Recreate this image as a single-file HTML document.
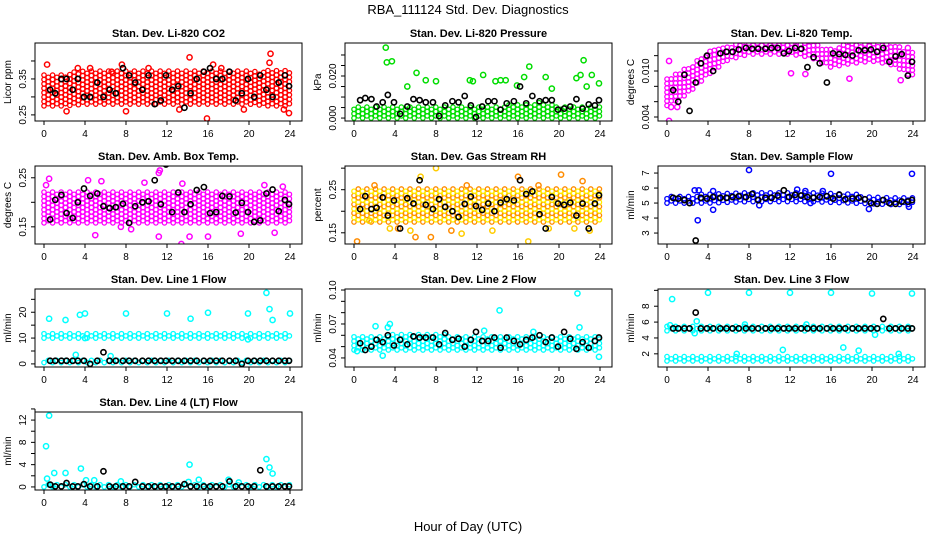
<!DOCTYPE html>
<html><head><meta charset="utf-8">
<style>
html,body{margin:0;padding:0;background:#fff;}
svg{display:block;font-family:"Liberation Sans",Arial,sans-serif;}
</style></head>
<body>
<svg id="chart" width="936" height="540" viewBox="0 0 936 540" xmlns="http://www.w3.org/2000/svg">
<text x="468" y="14" text-anchor="middle" font-size="13">RBA_111124  Std. Dev. Diagnostics</text>
<text x="468" y="531" text-anchor="middle" font-size="13">Hour of Day (UTC)</text>
</svg>
<script>
const bandHours = [0,2,4,6,8,10,12,14,16,18,20,22,24];
const blackHours = [0.6,1.1,1.7,2.2,2.8,3.3,3.9,4.5,5.2,5.8,6.4,7.0,7.7,8.3,8.9,9.6,10.2,10.8,11.4,11.9,12.5,13.1,13.7,14.3,14.9,15.6,16.2,16.8,17.4,18.1,18.7,19.3,19.9,20.5,21.1,21.7,22.3,22.9,23.5,23.9];
const xTicks = [0,4,8,12,16,20,24];

// P1 CO2
const co2BandLo = [.275,.275,.28,.28,.28,.28,.28,.28,.28,.28,.28,.275,.275];
const co2BandHi = [.365,.365,.375,.375,.375,.375,.375,.375,.375,.375,.375,.375,.375];
const co2Out = [[0.3,.39],[3.3,.38],[4.5,.38],[7.6,.39],[8,.26],[10.2,.38],[14.2,.41],[15.9,.24],[16.5,.39],[22.1,.42],[22,.395],[23.4,.265],[23.9,.255],[2.2,.26],[13.2,.265],[19.5,.265],[6.6,.37],[17.3,.38]];
const co2Black = [.32,.31,.35,.35,.32,.35,.30,.30,.34,.30,.32,.31,.38,.36,.34,.32,.36,.28,.29,.36,.32,.33,.27,.31,.35,.37,.38,.35,.35,.37,.29,.31,.35,.30,.36,.32,.30,.34,.36,.33];
// P2 Pressure
const presBandLo = [0,0,0,0,0,0,0,0,0,0,0,0,0];
const presBandHi = [.006,.006,.006,.006,.006,.006,.006,.006,.0065,.0075,.006,.006,.006];
const presOut = [[3.1,.0335],[3.2,.0265],[3.7,.027],[5.2,.015],[6.1,.0215],[7,.018],[8,.0175],[11.3,.018],[11.6,.0175],[12.6,.0205],[13.8,.0175],[14.3,.018],[14.8,.018],[15.9,.0155],[16.6,.0195],[17.1,.0245],[18.7,.0195],[19.3,.014],[21.7,.019],[22.1,.0205],[22.4,.0275],[22.7,.015],[23.2,.0205],[23.9,.0165]];
const presBlack = [.0085,.0095,.009,.0055,.0075,.011,.0075,.002,.0055,.009,.0085,.0075,.0075,.001,.006,.008,.0075,.0105,.006,.0005,.0055,.008,.008,.004,.007,.008,.015,.007,.0105,.008,.0085,.0085,.004,.0045,.0055,.009,.0045,.0065,.006,.0085];
// P3 Li-820 Temp
const tempBandLo = [.0055,.007,.0095,.0115,.0122,.0122,.0122,.0118,.0105,.011,.0113,.0108,.0092];
const tempBandHi = [.009,.0105,.0125,.0135,.0137,.0137,.0137,.0137,.013,.0137,.0137,.0135,.0125];
const tempOut = [[0.2,.0035],[0.4,.0053],[1,.0053],[0.2,.0113],[12.1,.0097],[13.5,.0096],[17.8,.0090],[22.8,.0088],[23.5,.0130]];
const tempBlack = [.0075,.0060,.0095,.0048,.0085,.0110,.0120,.0100,.0123,.0125,.0125,.0128,.0130,.0129,.0129,.0129,.0130,.0130,.0123,.0126,.0130,.0129,.0105,.0118,.0110,.0085,.0123,.0122,.0121,.0120,.0127,.0127,.0128,.0125,.0130,.0112,.0119,.0122,.0094,.0112];
// P4 Amb box temp
const ambBandLo = [.158,.158,.158,.158,.158,.158,.158,.158,.158,.158,.158,.158,.158];
const ambBandHi = [.225,.225,.225,.225,.225,.225,.225,.225,.225,.225,.225,.225,.225];
const ambOut = [[0.5,.248],[0.2,.235],[4.3,.245],[5.6,.243],[11.2,.26],[11.3,.265],[13.4,.115],[14.8,.108],[14.2,.13],[16,.13],[5,.133],[11.2,.13],[19.2,.136],[22.5,.138],[7.5,.15],[8.5,.145],[13.5,.238],[23.3,.232],[21.5,.235],[9.8,.24]];
const ambBlack = [.165,.205,.215,.178,.168,.200,.228,.213,.218,.192,.188,.190,.197,.158,.192,.200,.202,.245,.196,.277,.180,.220,.180,.196,.225,.231,.178,.180,.213,.212,.179,.199,.180,.160,.163,.218,.226,.182,.205,.196];
// P5 Gas stream RH
const rhBandLo = [.175,.175,.175,.175,.175,.175,.175,.175,.175,.175,.175,.175,.175];
const rhBandHi = [.255,.255,.255,.255,.255,.255,.255,.255,.255,.255,.255,.255,.255];
const rhOut = [[0.3,.13],[1.5,.178],[2,.26],[3.5,.16],[4.3,.16],[5.5,.155],[6.0,.14],[6.5,.28],[7.5,.14],[8,.30],[9.5,.155],[10.5,.148],[11,.26],[13.5,.155],[16,.28],[17,.13],[18,.26],[19,.16],[20.2,.285],[21.5,.16],[22.3,.27],[23,.155]];
const rhBlack = [.205,.235,.205,.208,.232,.190,.225,.160,.230,.218,.272,.215,.205,.228,.210,.200,.187,.217,.234,.212,.203,.218,.200,.220,.228,.225,.272,.240,.246,.193,.160,.233,.218,.215,.220,.190,.218,.160,.218,.237];
// P6 Sample flow
const sfBandLo = [5.0,5.0,5.0,5.05,5.1,5.1,5.1,5.1,5.05,5.0,4.95,4.9,4.9];
const sfBandHi = [5.55,5.55,5.6,5.65,5.7,5.7,5.75,5.7,5.65,5.6,5.5,5.45,5.4];
const sfOut = [[8,7.2],[16,6.95],[23.9,6.95],[3,3.85],[4.5,4.55],[19.7,4.6],[2.7,5.85],[3.1,5.85],[4.5,5.8],[12.7,5.9],[13.5,5.8],[15.2,5.8],[14,5],[23.6,4.75],[9,4.85]];
const sfBlack = [5.35,5.3,5.2,5.0,2.5,5.35,5.3,5.4,5.35,5.35,5.4,5.45,5.4,5.6,5.2,5.35,5.35,5.5,5.85,5.4,5.55,5.5,5.4,5.35,5.4,5.45,5.3,5.55,5.25,5.3,5.35,5.25,5.0,4.95,5.2,5.0,4.95,5.1,5.1,5.2];
// P7 Line 1
const l1BandLo = [10,10,10,10,10,10,10,10,10,10,10,10,10];
const l1BandHi = [12.5,12.5,12.5,12.5,12.5,12.5,12.5,12.5,12.5,12.5,12.5,12.5,12.5];
const l1Band2Lo = [0.5,0.5,0.5,0.5,0.5,0.5,0.5,0.5,0.5,0.5,0.5,0.5,0.5];
const l1Band2Hi = [2,2,2,2,2,2,2,2,2,2,2,2,2];
const l1Out = [[0.5,17.5],[2.1,17],[3.5,19],[4,19.5],[8,19.5],[12,19.5],[14.3,17.5],[16,19.8],[19.9,19.5],[21.7,27.5],[22,21.2],[22.3,17],[24,19.5],[19.9,9.5],[4,10],[3.1,3.5],[6.5,3]];
const l1Black = [1.2,1.2,1.2,1.2,1.2,1.2,1.2,0,1.2,4.5,1.2,1.2,1.2,1.2,1.2,1.2,1.2,1.2,1.2,1.2,1.2,1.2,1.2,1.2,1.2,1.2,1.2,1.2,1.2,1.2,1.2,0,1.2,1.2,1.2,1.2,1.2,1.2,1.2,1.2];
// P8 Line 2
const l2BandLo = [.047,.047,.047,.047,.047,.047,.047,.047,.047,.047,.047,.047,.047];
const l2BandHi = [.059,.059,.061,.061,.061,.06,.06,.06,.06,.06,.06,.06,.059];
const l2Out = [[21.8,.097],[14.2,.082],[22,.067],[2.1,.068],[3.5,.070],[3.3,.067],[0.3,.046],[2.8,.042],[23.9,.041],[12.7,.064],[17.5,.063]];
const l2Black = [.053,.047,.050,.056,.054,.060,.051,.056,.052,.059,.058,.058,.058,.052,.062,.056,.057,.050,.056,.063,.055,.055,.058,.049,.058,.055,.052,.056,.058,.060,.054,.058,.050,.063,.057,.048,.054,.049,.055,.058];
// P9 Line 3
const l3BandLo = [4.9,4.9,4.9,4.9,4.9,4.9,4.9,4.9,4.9,4.9,4.9,4.9,4.9];
const l3BandHi = [5.5,5.5,5.5,5.5,5.5,5.5,5.5,5.5,5.5,5.5,5.5,5.5,5.5];
const l3Band2Lo = [1.1,1.1,1.1,1.1,1.1,1.1,1.1,1.1,1.1,1.1,1.1,1.1,1.1];
const l3Band2Hi = [1.7,1.7,1.7,1.7,1.7,1.7,1.7,1.7,1.7,1.7,1.7,1.7,1.7];
const l3Out = [[0.5,8.9],[4,9.7],[8,9.7],[12,9.7],[16,9.7],[20,9.6],[23.9,9.6],[2.9,6.1],[11.3,2.5],[17.2,2.8],[18.7,2.4],[6.8,2.0],[22.6,2.0],[0.3,5.6],[13.6,5.7],[7.6,5.7],[20.3,4.4],[2.7,4.6]];
const l3Black = [5.2,5.2,5.2,5.2,7.2,5.2,5.2,5.2,5.2,5.2,5.2,5.2,5.2,5.2,5.2,5.2,5.2,5.2,5.2,5.2,5.2,5.2,5.2,5.2,5.2,5.2,5.2,5.2,5.2,5.2,5.2,5.2,5.2,5.2,6.4,5.2,5.2,5.2,5.2,5.2];
// P10 Line 4
const l4BandLo = [0,0,0,0,0,0,0,0,0,0,0,0,0];
const l4BandHi = [0.6,0.6,0.5,0.5,0.5,0.5,0.5,0.5,0.6,0.5,0.4,0.4,0.4];
const l4Out = [[0.2,7.3],[0.5,12.8],[0.3,1.5],[1,2.5],[2.1,2.5],[3.6,3.3],[4.1,1.2],[4.9,1.2],[7.5,1],[14.2,4],[14.1,0.9],[15.1,1.3],[18,1.3],[19,0.8],[21.7,5],[22,3.5],[22.3,2.4],[0.7,0.3]];
const l4Black = [0.4,0.1,0.1,0.7,0.1,0.1,0.5,0.1,0.1,2.8,0.1,0.1,0.1,0.1,0.9,0.1,0.1,0.1,0.1,0.1,0.1,0.1,0.5,0.1,0.1,0.1,0.1,0.1,0.1,1.0,0.1,0.1,0.1,0.1,3.0,0.1,0.1,0.1,0.1,0.1];

const NS = "http://www.w3.org/2000/svg";
const svg = document.getElementById('chart');
function mk(tag, attrs, parent){const e=document.createElementNS(NS,tag);for(const k in attrs)e.setAttribute(k,attrs[k]);(parent||svg).appendChild(e);return e;}

const panels = [
 {key:'co2',title:'Stan. Dev. Li-820 CO2',ylab:'Licor ppm',col:0,row:0,ymin:.233,ymax:.45,ticks:[.25,.30,.35,.40],labels:['0.25','','0.35',''],color:'#ff0000',color2:null,bands:[[co2BandLo,co2BandHi]],out:co2Out,black:co2Black},
 {key:'pressure',title:'Stan. Dev. Li-820 Pressure',ylab:'kPa',col:1,row:0,ymin:-.0014,ymax:.0357,ticks:[0,.005,.01,.015,.02,.025,.03],labels:['0.000','','','','0.020','',''],color:'#00dd00',color2:null,bands:[[presBandLo,presBandHi]],out:presOut,black:presBlack},
 {key:'li820-temp',title:'Stan. Dev. Li-820 Temp.',ylab:'degrees C',col:2,row:0,ymin:.00348,ymax:.01365,ticks:[.004,.006,.008,.010,.012],labels:['0.004','','','0.010',''],color:'#ff00ff',color2:null,bands:[[tempBandLo,tempBandHi]],out:tempOut,black:tempBlack},
 {key:'amb-box-temp',title:'Stan. Dev. Amb. Box Temp.',ylab:'degrees C',col:0,row:1,ymin:.115,ymax:.274,ticks:[.15,.20,.25],labels:['0.15','','0.25'],color:'#ff00ff',color2:null,bands:[[ambBandLo,ambBandHi]],out:ambOut,black:ambBlack},
 {key:'gas-rh',title:'Stan. Dev. Gas Stream RH',ylab:'percent',col:1,row:1,ymin:.124,ymax:.305,ticks:[.15,.20,.25,.30],labels:['0.15','','0.25',''],color:'#ff8c00',color2:'#ffee00',bands:[[rhBandLo,rhBandHi]],out:rhOut,black:rhBlack},
 {key:'sample-flow',title:'Stan. Dev. Sample Flow',ylab:'ml/min',col:2,row:1,ymin:2.27,ymax:7.47,ticks:[3,4,5,6,7],labels:['3','4','5','6','7'],color:'#0000ff',color2:null,bands:[[sfBandLo,sfBandHi]],out:sfOut,black:sfBlack},
 {key:'line1-flow',title:'Stan. Dev. Line 1 Flow',ylab:'ml/min',col:0,row:2,ymin:-1.2,ymax:29,ticks:[0,5,10,15,20,25],labels:['0','','10','','20',''],color:'#00ffff',color2:null,bands:[[l1BandLo,l1BandHi],[l1Band2Lo,l1Band2Hi]],out:l1Out,black:l1Black},
 {key:'line2-flow',title:'Stan. Dev. Line 2 Flow',ylab:'ml/min',col:1,row:2,ymin:.032,ymax:.1009,ticks:[.04,.05,.06,.07,.08,.09,.10],labels:['0.04','','','0.07','','','0.10'],color:'#00ffff',color2:null,bands:[[l2BandLo,l2BandHi]],out:l2Out,black:l2Black},
 {key:'line3-flow',title:'Stan. Dev. Line 3 Flow',ylab:'ml/min',col:2,row:2,ymin:.34,ymax:10.17,ticks:[2,4,6,8,10],labels:['2','4','6','8',''],color:'#00ffff',color2:null,bands:[[l3BandLo,l3BandHi],[l3Band2Lo,l3Band2Hi]],out:l3Out,black:l3Black},
 {key:'line4-flow',title:'Stan. Dev. Line 4 (LT) Flow',ylab:'ml/min',col:0,row:3,ymin:-.55,ymax:13.45,ticks:[0,2,4,6,8,10,12,14],labels:['0','','4','','8','','12',''],color:'#00ffff',color2:null,bands:[[l4BandLo,l4BandHi]],out:l4Out,black:l4Black}
];
const colLeft=[35,345,658], rowTop=[43,166,289,412], W=267, H=78;

function interp(arr,h){const i=Math.min(11,Math.floor(h/2));const t=(h-bandHours[i])/(bandHours[i+1]-bandHours[i]);return arr[i]+(arr[i+1]-arr[i])*t;}

panels.forEach(p=>{
  const L=colLeft[p.col], T=rowTop[p.row];
  const xs=h=>L+9+h*10.25;
  const ys=v=>T+H-(v-p.ymin)/(p.ymax-p.ymin)*H;
  const g=mk('g',{});
  
  
  const t=mk('text',{x:L+W/2,y:T-6,'text-anchor':'middle','font-size':'11','font-weight':'bold'},g);
  t.textContent=p.title;
  
  
  const cp=mk('clipPath',{id:'clip-'+p.key},g); mk('rect',{x:L,y:T,width:W,height:H},cp);
  const pts=mk('g',{'clip-path':'url(#clip-'+p.key+')'},g);
  
  
  p.bands.forEach(b=>{
    let col=0;
    for(let h=0; h<=24.001; h+=0.42){
      const lo=interp(b[0],h), hi=interp(b[1],h);
      const y0=ys(lo), y1=ys(hi);
      let k=0;
      for(let y=y0-(col%2)*2.2; y>=y1-0.1; y-=4.4){
        const stroke = (p.color2 && (k+col)%2) ? p.color2 : p.color;
        const c=mk('circle',{cx:xs(h).toFixed(1),cy:y.toFixed(1),r:2.2,fill:'none',stroke:stroke,'stroke-width':1.3},pts);
        
        
        k++;
      }
      col++;
    }
  });
  p.out.forEach((o,i)=>{
    const stroke = (p.color2 && i%2) ? '#ffcc00' : p.color;
    const c=mk('circle',{cx:xs(o[0]),cy:ys(o[1]),r:2.6,fill:'none',stroke:stroke,'stroke-width':1.5},pts);
    
    
  });
  p.black.forEach((v,i)=>{
    const c=mk('circle',{cx:xs(blackHours[i]),cy:ys(v),r:2.6,fill:'none',stroke:'#000','stroke-width':1.6},pts);
    
    
  });
  const box=mk('rect',{x:L,y:T,width:W,height:H,fill:'none',stroke:'#000','stroke-width':1},g);
  
  
  const xa=mk('g',{},g);
  
  
  mk('line',{x1:xs(0),x2:xs(24),y1:T+H,y2:T+H,stroke:'#000'},xa);
  xTicks.forEach(v=>{
    mk('line',{x1:xs(v),x2:xs(v),y1:T+H,y2:T+H+4,stroke:'#000'},xa);
    const tl=mk('text',{x:xs(v),y:T+H+16,'text-anchor':'middle','font-size':'10'},xa);
    tl.textContent=v;
  });
  const ya=mk('g',{},g);
  
  
  mk('line',{x1:L,x2:L,y1:ys(p.ticks[0]),y2:ys(p.ticks[p.ticks.length-1]),stroke:'#000'},ya);
  p.ticks.forEach((v,i)=>{
    const y=ys(v);
    mk('line',{x1:L-4,x2:L,y1:y,y2:y,stroke:'#000'},ya);
    if(p.labels[i]){
      const tl=mk('text',{x:0,y:0,'text-anchor':'middle','font-size':'10',transform:`translate(${L-9},${y}) rotate(-90)`},ya);
      tl.textContent=p.labels[i];
    }
  });
  const yl=mk('text',{x:0,y:0,'text-anchor':'middle','font-size':'10',transform:`translate(${L-24},${T+H/2}) rotate(-90)`},g);
  yl.textContent=p.ylab;
  
  
});
</script>
</body></html>
